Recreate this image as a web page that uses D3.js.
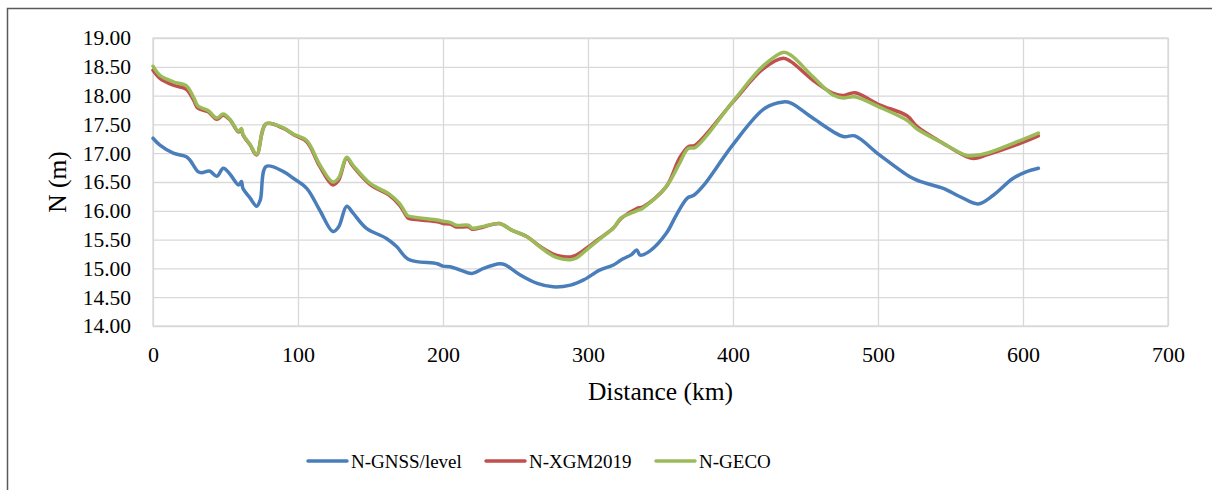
<!DOCTYPE html>
<html>
<head>
<meta charset="utf-8">
<script src="https://cdn.jsdelivr.net/npm/d3@7"></script>
<style>
  body { margin: 0; background: #fff; }
  svg text { font-family: "Liberation Serif", "Times New Roman", serif !important; fill: #000; }
</style>
</head>
<body>
<div id="chart"></div>
<script>
// distance (km) for the GNSS/levelling profile
var gnssKm = [0, 4.8, 14, 23, 25.5, 31, 33.6, 39, 44, 48.5, 53, 59, 61, 62, 67, 71.5, 74, 78, 90, 97,
  106, 115, 124, 128, 133.6, 138, 147, 161, 168, 176, 196, 200, 205, 212, 220, 228, 239, 243, 253, 265,
  276, 288, 297, 308, 317.5, 323, 330, 333.6, 336, 343, 354, 361, 368.5, 373, 380, 400, 422, 434.7, 440, 455,
  476, 484, 501, 522, 529, 545, 557, 569, 579.5, 593, 602.5, 610.6];
var gnssN = [17.26, 17.14, 17.00, 16.94, 16.88, 16.68, 16.66, 16.69, 16.60, 16.74, 16.64, 16.45, 16.51, 16.39, 16.22, 16.08, 16.19, 16.77, 16.68, 16.56,
  16.39, 16.01, 15.64, 15.72, 16.08, 15.96, 15.70, 15.52, 15.38, 15.16, 15.08, 15.04, 15.03, 14.97, 14.91, 15.00, 15.08, 15.06, 14.89, 14.74,
  14.68, 14.71, 14.80, 14.97, 15.06, 15.15, 15.24, 15.32, 15.23, 15.31, 15.61, 15.93, 16.22, 16.27, 16.45, 17.15, 17.78, 17.89, 17.87, 17.61,
  17.29, 17.30, 16.97, 16.59, 16.51, 16.39, 16.24, 16.12, 16.27, 16.56, 16.68, 16.74];

// distance (km) for the model profiles
var modelKm = [0, 4.8, 14, 23, 28, 31, 38, 44, 48.5, 53, 59, 61, 62, 67, 71.5, 78, 90, 97, 106, 115,
  124, 128, 133.6, 138, 150, 163, 170, 175, 176, 196, 200, 205, 209, 217.5, 220, 228, 239, 247, 258, 267,
  278, 288, 292, 299, 308, 317.5, 323, 333.6, 338, 354, 363, 369, 374, 400, 421, 434.7, 440, 455, 469, 476,
  484, 501, 520, 527, 545, 561, 566, 575, 598, 610.6];
var xgmN = [18.44, 18.30, 18.18, 18.11, 17.92, 17.78, 17.72, 17.59, 17.66, 17.58, 17.37, 17.41, 17.32, 17.14, 16.97, 17.51, 17.43, 17.32, 17.20, 16.77,
  16.45, 16.53, 16.91, 16.77, 16.45, 16.27, 16.10, 15.90, 15.87, 15.81, 15.78, 15.77, 15.72, 15.72, 15.68, 15.72, 15.78, 15.67, 15.55, 15.38,
  15.23, 15.20, 15.23, 15.35, 15.52, 15.70, 15.87, 16.04, 16.07, 16.42, 16.91, 17.11, 17.14, 17.89, 18.47, 18.65, 18.59, 18.27, 18.04, 18.00,
  18.05, 17.84, 17.65, 17.46, 17.17, 16.94, 16.91, 16.97, 17.17, 17.30];
var gecoN = [18.51, 18.35, 18.24, 18.17, 17.97, 17.82, 17.74, 17.61, 17.68, 17.59, 17.38, 17.43, 17.33, 17.15, 16.98, 17.51, 17.44, 17.33, 17.22, 16.80,
  16.50, 16.57, 16.93, 16.79, 16.47, 16.29, 16.13, 15.93, 15.91, 15.84, 15.82, 15.80, 15.75, 15.75, 15.70, 15.73, 15.78, 15.67, 15.55, 15.37,
  15.19, 15.15, 15.18, 15.32, 15.51, 15.70, 15.88, 16.00, 16.05, 16.42, 16.82, 17.08, 17.10, 17.90, 18.52, 18.75, 18.70, 18.33, 18.01, 17.96,
  17.98, 17.80, 17.57, 17.42, 17.17, 16.96, 16.96, 17.00, 17.22, 17.35];

var seriesNames = ["N-GNSS/level", "N-XGM2019", "N-GECO"];
var seriesColors = ["#4a7ebb", "#c0504d", "#9bbb59"];
var xTicks = [0, 100, 200, 300, 400, 500, 600, 700];
var yTicks = [14, 14.5, 15, 15.5, 16, 16.5, 17, 17.5, 18, 18.5, 19];

var W = 1212, H = 490;
var margin = { top: 38, right: 44, bottom: 164, left: 153 },
  width = W - margin.left - margin.right,
  height = H - margin.top - margin.bottom;

var serif = '"Liberation Serif", "Times New Roman", serif';

var root = d3.select("#chart").append("svg")
  .attr("width", W)
  .attr("height", H)
  .style("font-family", serif);

// outer chart frame
root.append("rect")
  .attr("x", 7.5).attr("y", 8.5)
  .attr("width", 1230).attr("height", 500)
  .attr("fill", "none")
  .attr("stroke", "#5a5a5a")
  .attr("stroke-width", 1.5);

var svg = root.append("g")
  .attr("transform", "translate(" + margin.left + "," + margin.top + ")");

var x = d3.scaleLinear().domain([0, 700]).range([0, width]);
var y = d3.scaleLinear().domain([14, 19]).range([height, 0]);

// grid
svg.append("g")
  .call(d3.axisLeft(y).tickValues(yTicks).tickSize(-width).tickFormat(""))
  .call(function (g) { g.select(".domain").remove(); })
  .selectAll("line").attr("stroke", "#d9d9d9").attr("stroke-width", 1.3);

svg.append("g")
  .attr("transform", "translate(0," + height + ")")
  .call(d3.axisBottom(x).tickValues(xTicks).tickSize(-height).tickFormat(""))
  .call(function (g) { g.select(".domain").remove(); })
  .selectAll("line").attr("stroke", "#d9d9d9").attr("stroke-width", 1.3);

// plot border
svg.append("rect")
  .attr("width", width).attr("height", height)
  .attr("fill", "none")
  .attr("stroke", "#d9d9d9")
  .attr("stroke-width", 1.3);

// tick labels
var yAxis = svg.append("g")
  .call(d3.axisLeft(y).tickValues(yTicks).tickSize(0).tickPadding(22).tickFormat(d3.format(".2f")))
  .attr("font-family", serif)
  .attr("font-size", 21.5);
yAxis.select(".domain").remove();
yAxis.selectAll("text").style("font-family", serif).attr("fill", "#000");

var xAxis = svg.append("g")
  .attr("transform", "translate(0," + height + ")")
  .call(d3.axisBottom(x).tickValues(xTicks).tickSize(0).tickPadding(20).tickFormat(d3.format("d")))
  .attr("font-family", serif)
  .attr("font-size", 22);
xAxis.select(".domain").remove();
xAxis.selectAll("text").style("font-family", serif).attr("fill", "#000");

// axis titles
svg.append("text")
  .attr("x", width / 2)
  .attr("y", height + 74)
  .attr("text-anchor", "middle")
  .attr("font-size", 25.5)
  .style("font-family", serif)
  .text("Distance (km)");

svg.append("text")
  .attr("transform", "translate(" + (-87) + "," + (height / 2) + ") rotate(-90)")
  .attr("text-anchor", "middle")
  .attr("font-size", 25.5)
  .style("font-family", serif)
  .text("N (m)");

// lines
var line = d3.line()
  .x(function (d) { return x(d[0]); })
  .y(function (d) { return y(d[1]); })
  .curve(d3.curveCatmullRom.alpha(0.5));

var seriesData = [
  d3.zip(gnssKm, gnssN),
  d3.zip(modelKm, xgmN),
  d3.zip(modelKm, gecoN)
];

svg.selectAll(".series")
  .data(seriesData)
  .enter()
  .append("path")
  .attr("class", "series")
  .attr("d", line)
  .attr("fill", "none")
  .attr("stroke", function (d, i) { return seriesColors[i]; })
  .attr("stroke-width", 3.5)
  .attr("stroke-linejoin", "round")
  .attr("stroke-linecap", "round");

// legend
var legendX = [308, 486, 656];
var legend = root.append("g").attr("transform", "translate(0,461)");
var items = legend.selectAll(".item")
  .data(seriesNames)
  .enter()
  .append("g")
  .attr("transform", function (d, i) { return "translate(" + legendX[i] + ",0)"; });

items.append("line")
  .attr("x1", 0).attr("x2", 39)
  .attr("stroke", function (d, i) { return seriesColors[i]; })
  .attr("stroke-width", 3.5)
  .attr("stroke-linecap", "round");

items.append("text")
  .attr("x", 43)
  .attr("dy", "0.35em")
  .attr("font-size", 19)
  .style("font-family", serif)
  .text(function (d) { return d; });
</script>
</body>
</html>
